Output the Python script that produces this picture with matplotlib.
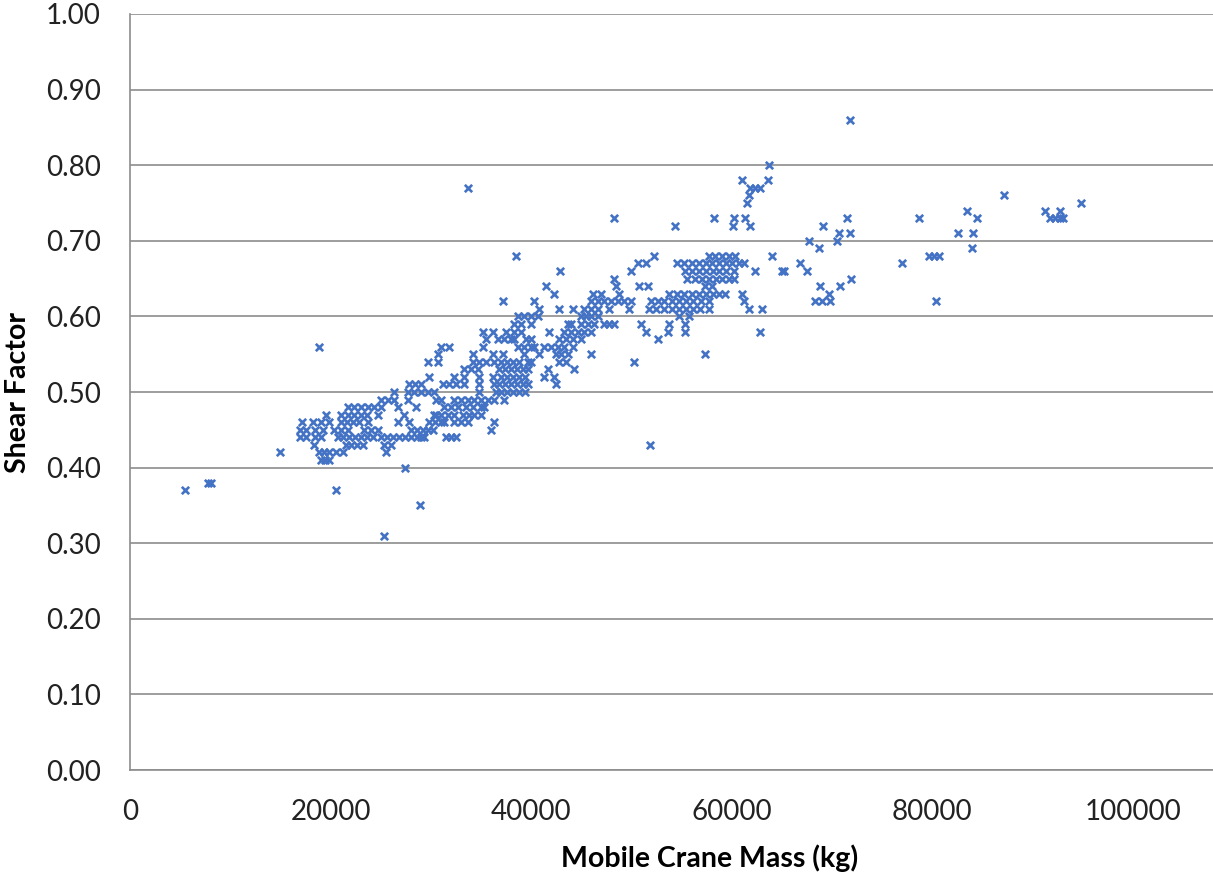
import matplotlib
matplotlib.use("Agg")
import matplotlib.pyplot as plt
import numpy as np

# Shear factor levels (values are quantised to 0.01) and the crane masses (kg) observed at each level
shear_levels = [0.31, 0.35, 0.37, 0.38, 0.40, 0.41, 0.42, 0.43, 0.44, 0.45,
                0.46, 0.47, 0.48, 0.49, 0.50, 0.51, 0.52, 0.53, 0.54, 0.55,
                0.56, 0.57, 0.58, 0.59, 0.60, 0.61, 0.62, 0.63, 0.64, 0.65,
                0.66, 0.67, 0.68, 0.69, 0.70, 0.71, 0.72, 0.73, 0.74, 0.75,
                0.76, 0.77, 0.78, 0.80, 0.86]

mass_by_level = [
    [25300],
    [28900],
    [5500, 20500],
    [7800, 8100],
    [27400],
    [19000, 19400, 19800],
    [15000, 18800, 19300, 19800, 20500, 21200, 25500],
    [18300, 21500, 22000, 22600, 23200, 25300, 26000, 51900],
    [17000, 17600, 18400, 19000, 20700, 21200, 21800, 22400, 23000, 23600, 24200,
     25000, 25600, 26200, 26800, 27400, 28000, 28600, 29000, 29300, 31500, 32000, 32500],
    [17000, 17600, 18400, 19200, 20300, 21000, 21700, 23300, 24000, 24700,
     28000, 28600, 29200, 29700, 30200, 36000],
    [17200, 18200, 19000, 19800, 21000, 21600, 22200, 22800, 23700, 26700, 27800,
     29800, 30400, 31000, 31300, 32300, 33000, 33700, 36300],
    [19500, 21000, 21700, 22300, 23000, 23600, 24700, 27300, 30300, 30500, 31000,
     31700, 32300, 33200, 33800, 34300, 35000],
    [21700, 22300, 23000, 23700, 24300, 25000, 26700, 28500, 31300, 32000, 32700,
     33500, 34200, 35000, 35300],
    [25000, 25700, 26300, 27700, 30500, 31000, 32300, 33000, 33700, 34300, 35000,
     35700, 36300, 37300],
    [26300, 27700, 28300, 29000, 29700, 30300, 34800, 36500, 37000, 37600, 38200,
     38800, 39400],
    [27800, 28400, 29000, 31200, 31800, 32500, 33300, 34800, 36300, 36800, 37400,
     38000, 38600, 39200, 39700, 42500],
    [29800, 32300, 33300, 34800, 36200, 37000, 37600, 38200, 38800, 39400, 41300,
     42300],
    [33300, 34000, 34700, 36800, 37400, 38000, 38600, 39200, 39700, 41700, 44300],
    [29700, 30700, 34200, 34800, 35500, 36300, 37000, 37600, 38200, 38800, 39700,
     40000, 42800, 43500, 50300],
    [30700, 34200, 36200, 37200, 39300, 40800, 42500, 43000, 43700, 46000, 57300],
    [18800, 31000, 31800, 35200, 38700, 39300, 40000, 40300, 41300, 42000, 42700,
     43300, 44200],
    [35500, 36700, 37300, 38000, 38300, 39500, 40000, 42800, 43500, 44200, 45000,
     52700],
    [35200, 36200, 37500, 38300, 39000, 41800, 43300, 44000, 44700, 45300, 46000,
     51500, 53700, 55300, 62800],
    [38300, 39000, 40000, 43700, 44000, 45000, 45700, 46300, 47300, 47800, 48300,
     51000, 53800, 55300],
    [38700, 39300, 40000, 40700, 45000, 45500, 46000, 46700, 54700, 55700],
    [40800, 42800, 44200, 45300, 46000, 46700, 47800, 49800, 51800, 52500, 53300,
     54000, 54700, 55400, 56100, 56800, 57700, 61700, 63000],
    [37200, 40300, 46000, 46700, 47300, 48000, 48700, 49300, 50000, 52000, 52700,
     53300, 54000, 54700, 55400, 56100, 56900, 57700, 61200, 68300, 69000, 69800,
     80400],
    [42300, 46200, 47000, 48800, 53800, 54500, 55200, 56000, 56700, 57400, 58100,
     58700, 59300, 61000, 69700],
    [41500, 48500, 50800, 51700, 57300, 58000, 68800, 70800],
    [48300, 55500, 56300, 57000, 57700, 58400, 59000, 59700, 60200, 71900],
    [42900, 50000, 55300, 56000, 56700, 57400, 58100, 58700, 59400, 60200, 62300,
     65000, 65200, 67500],
    [50700, 51500, 54500, 55200, 56000, 56700, 57400, 58000, 58700, 59400, 60000,
     60700, 61200, 66800, 77000],
    [38500, 52300, 57700, 58300, 59000, 59700, 60300, 64000, 79700, 80200, 80700],
    [68700, 84000],
    [67700, 70500],
    [70700, 71800, 82600, 84100],
    [54300, 60100, 61800, 69100],
    [48300, 58200, 60200, 61300, 71500, 78700, 84500, 91700, 92200, 92700, 93000],
    [83500, 91200, 92700],
    [61500, 94800],
    [61700, 87200],
    [33700, 61800, 62300, 62800],
    [61000, 63600],
    [63700],
    [71800],
]

x_ticks = [0, 20000, 40000, 60000, 80000, 100000]
y_ticks = [0.0, 0.1, 0.2, 0.3, 0.4, 0.5, 0.6, 0.7, 0.8, 0.9, 1.0]

mass = np.array([m for lvl, ms in zip(shear_levels, mass_by_level) for m in ms], dtype=float)
shear = np.array([lvl for lvl, ms in zip(shear_levels, mass_by_level) for m in ms], dtype=float)

plt.rcParams['font.family'] = ['Lato', 'DejaVu Sans']

fig = plt.figure(figsize=(12.13, 8.80), dpi=100)
ax = fig.add_axes([130 / 1213, 1 - 770 / 880, 1 - 130 / 1213, (770 - 14) / 880])

ax.scatter(mass, shear, marker='x', s=28, linewidths=1.9, color='#4472c4', zorder=3)

ax.set_xlim(0, 108000)
ax.set_ylim(0, 1.0)
ax.set_xticks(x_ticks)
ax.set_xticklabels([str(t) for t in x_ticks])
ax.set_yticks(y_ticks)
ax.set_yticklabels([f"{t:.2f}" for t in y_ticks])
ax.tick_params(axis='both', length=0, labelsize=20, colors='#222222')
ax.tick_params(axis='y', pad=21)
ax.tick_params(axis='x', pad=21)

ax.grid(axis='y', color='#8c8c8c', linewidth=1.2, zorder=0)
ax.set_axisbelow(True)
for side in ['top', 'right']:
    ax.spines[side].set_visible(False)
for side in ['left', 'bottom']:
    ax.spines[side].set_color('#8c8c8c')
    ax.spines[side].set_linewidth(1.2)

ax.set_xlabel("Mobile Crane Mass (kg)", fontsize=20.5, fontweight='bold', va='center')
ax.set_ylabel("Shear Factor", fontsize=20.5, fontweight='bold', va='center')
ax.xaxis.set_label_coords((710 - 130) / 1083, (770 - 858) / 756)
ax.yaxis.set_label_coords((18 - 130) / 1083, 0.5)

fig.savefig("out.png", dpi=100)
